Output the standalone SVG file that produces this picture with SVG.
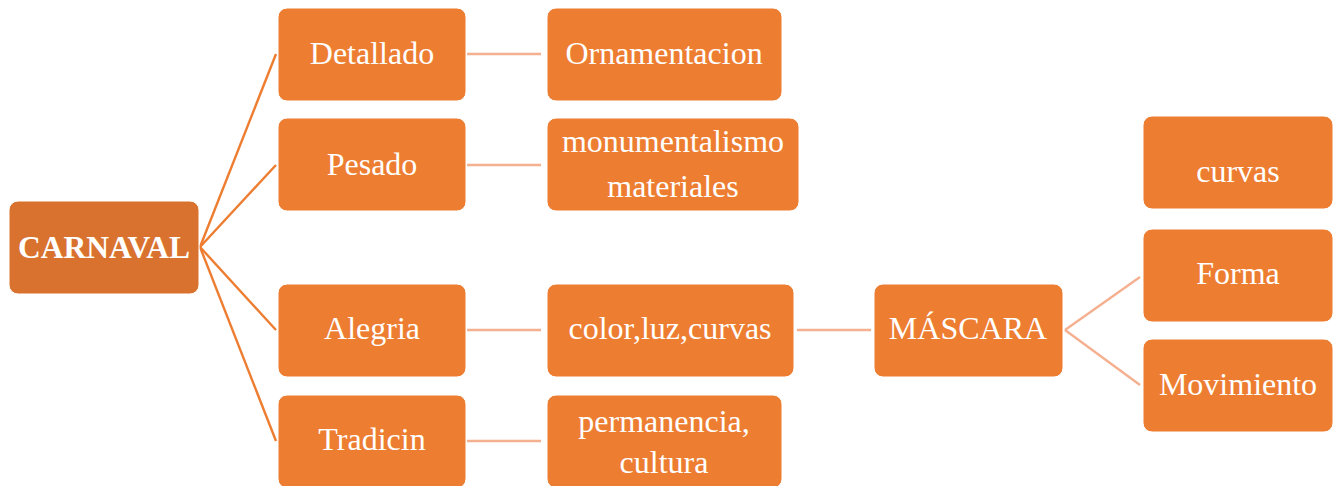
<svg xmlns="http://www.w3.org/2000/svg" width="1339" height="486" viewBox="0 0 1339 486">
<style>
.box{fill:#ED7D31;stroke:#fff;stroke-width:1}
.root{fill:#D9722E;stroke:#fff;stroke-width:1}
text{font-family:"Liberation Serif","Times New Roman",serif;fill:#fff;font-size:32px;text-anchor:middle}
.b{font-weight:bold;font-size:31.5px}
.c1{stroke:#ED7D31;stroke-width:2.4;fill:none}
.c2{stroke:#F4B08F;stroke-width:2.4;fill:none}
</style>
<rect width="1339" height="486" fill="#fff"/>
<g id="connectors">
<line class="c1" x1="200" y1="247" x2="276" y2="54"/>
<line class="c1" x1="200" y1="247" x2="276" y2="165"/>
<line class="c1" x1="200" y1="247" x2="276" y2="330"/>
<line class="c1" x1="200" y1="247" x2="276" y2="441"/>
<line class="c2" x1="467" y1="54" x2="541" y2="54"/>
<line class="c2" x1="467" y1="165" x2="541" y2="165"/>
<line class="c2" x1="467" y1="330" x2="541" y2="330"/>
<line class="c2" x1="467" y1="441" x2="541" y2="441"/>
<line class="c2" x1="797" y1="330" x2="871" y2="330"/>
<line class="c2" x1="1065" y1="330" x2="1140" y2="277"/>
<line class="c2" x1="1065" y1="330" x2="1140" y2="385"/>
</g>
<g id="carnaval"><rect class="root" x="9" y="201" width="190" height="93" rx="9"/><text class="b" x="104" y="258">CARNAVAL</text></g>
<g id="detallado"><rect class="box" x="278" y="8" width="188" height="93" rx="9"/><text x="372" y="64">Detallado</text></g>
<g id="pesado"><rect class="box" x="278" y="118" width="188" height="93" rx="9"/><text x="372" y="175">Pesado</text></g>
<g id="alegria"><rect class="box" x="278" y="284" width="188" height="93" rx="9"/><text x="372" y="339">Alegria</text></g>
<g id="tradicin"><rect class="box" x="278" y="395" width="188" height="93" rx="9"/><text x="372" y="450">Tradicin</text></g>
<g id="ornamentacion"><rect class="box" x="547" y="8" width="235" height="93" rx="9"/><text x="664" y="64">Ornamentacion</text></g>
<g id="monumentalismo"><rect class="box" x="547" y="118" width="252" height="93" rx="9"/><text x="673" y="152">monumentalismo</text><text x="673" y="197">materiales</text></g>
<g id="colorluz"><rect class="box" x="547" y="284" width="247" height="93" rx="9"/><text x="670" y="339">color,luz,curvas</text></g>
<g id="permanencia"><rect class="box" x="547" y="395" width="235" height="93" rx="9"/><text x="664" y="432">permanencia,</text><text x="664" y="473">cultura</text></g>
<g id="mascara"><rect class="box" x="874" y="284" width="189" height="93" rx="9"/><text x="968" y="339">MÁSCARA</text></g>
<g id="curvas"><rect class="box" x="1143" y="116" width="190" height="93" rx="9"/><text x="1238" y="182">curvas</text></g>
<g id="forma"><rect class="box" x="1143" y="229" width="190" height="93" rx="9"/><text x="1238" y="284">Forma</text></g>
<g id="movimiento"><rect class="box" x="1143" y="339" width="190" height="93" rx="9"/><text x="1238" y="395">Movimiento</text></g>
</svg>
